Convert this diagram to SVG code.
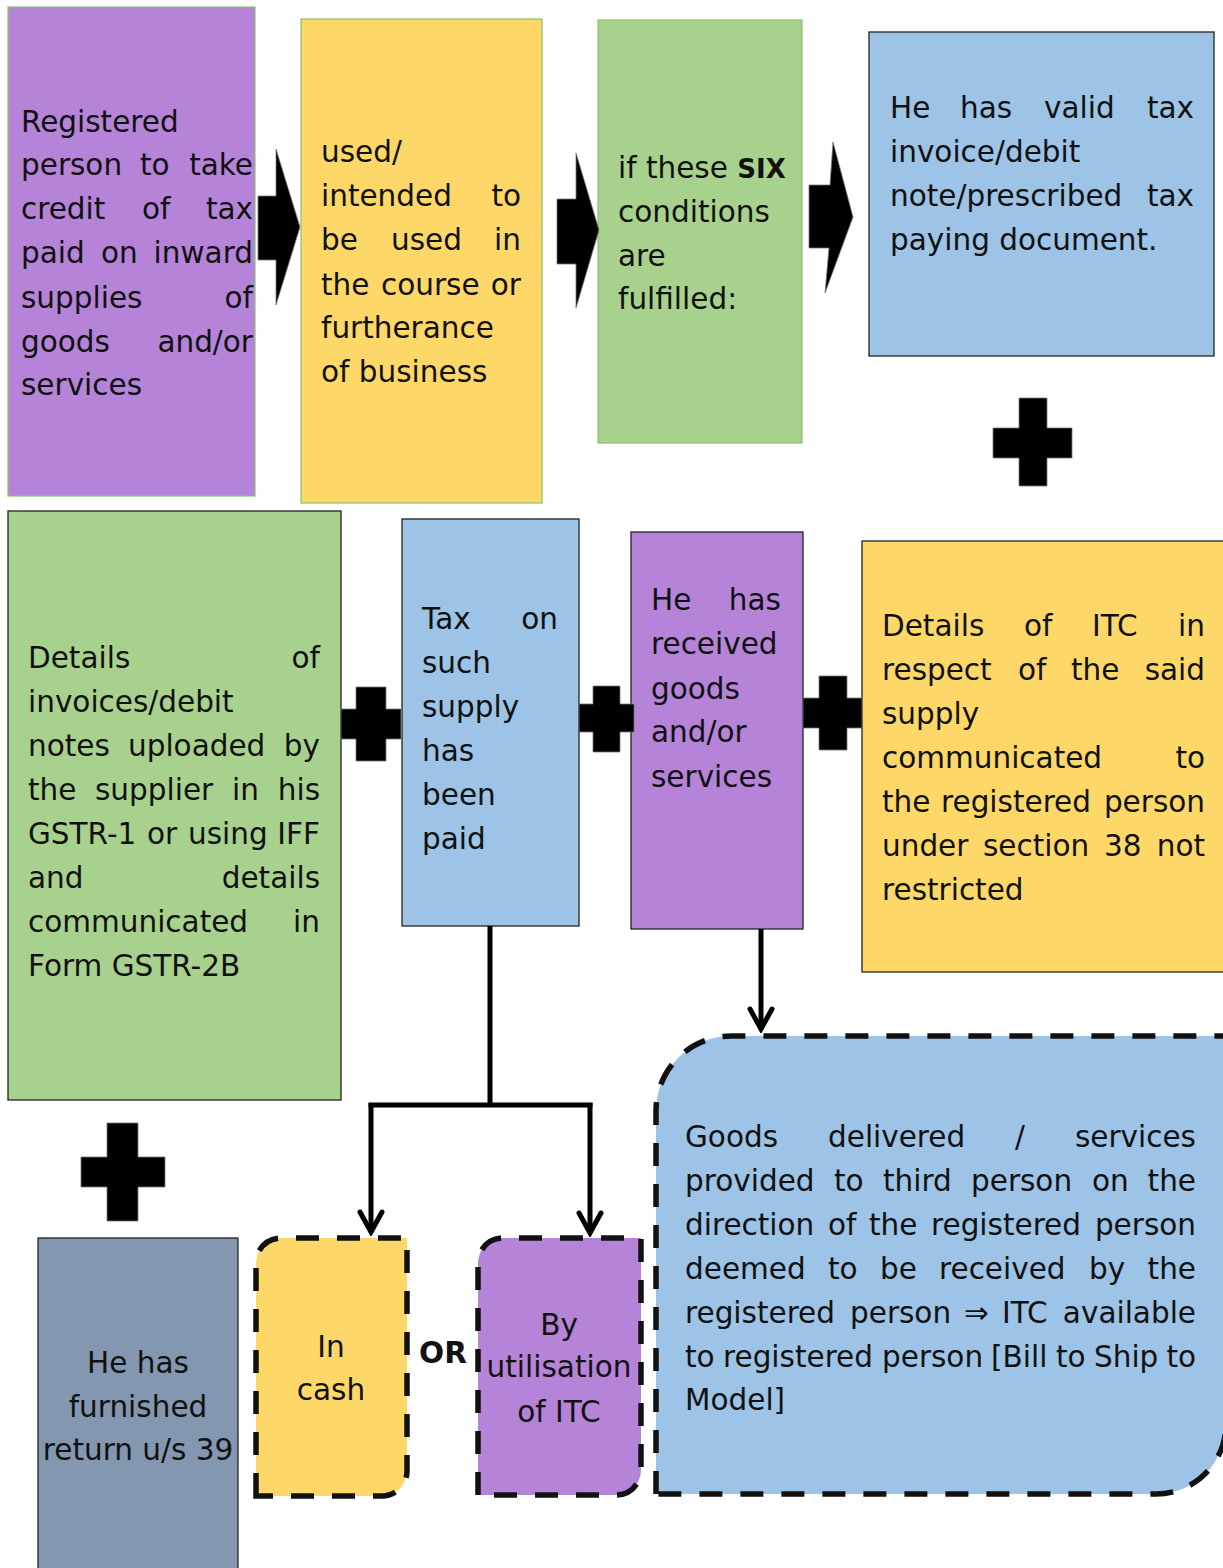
<svg xmlns="http://www.w3.org/2000/svg" width="1223" height="1568" viewBox="0 0 1223 1568">
<style>
text{font-family:"DejaVu Sans","Noto Sans",sans-serif;font-size:29.5px;fill:#111}
.e{text-anchor:end}
.m{text-anchor:middle}
.b{font-weight:bold}
.gb{stroke:#8cc06a;stroke-width:1.2}
.db{stroke:#222;stroke-width:1.3}
.pu{fill:#b584d9}
.ye{fill:#fdd868}
.gr{fill:#a9d18e}
.bl{fill:#9dc3e6}
.sl{fill:#8497b0}
.dash{stroke:#111;stroke-width:5.5;stroke-dasharray:23 18}
.sym{fill:#000;stroke:#777;stroke-width:0.8}
.con{fill:none;stroke:#000;stroke-width:5}
</style>
<defs>
<marker id="ah" markerUnits="userSpaceOnUse" viewBox="-26 -16 30 32" refX="0" refY="0" markerWidth="30" markerHeight="32" orient="auto">
<path d="M-20,-11 L0,0 L-20,11" fill="none" stroke="#000" stroke-width="5" stroke-linecap="round"/>
</marker>
</defs>

<g id="n1">
<rect x="8" y="7" width="247" height="489" class="pu gb"/>
<text x="21" y="132">Registered</text>
<text x="21" y="175">person</text><text x="140" y="175">to</text><text x="253" y="175" class="e">take</text>
<text x="21" y="219">credit</text><text x="142" y="219">of</text><text x="253" y="219" class="e">tax</text>
<text x="21" y="263">paid</text><text x="101" y="263">on</text><text x="253" y="263" class="e">inward</text>
<text x="21" y="308">supplies</text><text x="253" y="308" class="e">of</text>
<text x="21" y="352">goods</text><text x="253" y="352" class="e">and/or</text>
<text x="21" y="395">services</text>
</g>

<g id="n2">
<rect x="301" y="19" width="241" height="484" class="ye gb"/>
<text x="321" y="162">used/</text>
<text x="321" y="206">intended</text><text x="521" y="206" class="e">to</text>
<text x="321" y="250">be</text><text x="391" y="250">used</text><text x="521" y="250" class="e">in</text>
<text x="321" y="295">the</text><text x="381" y="295">course</text><text x="521" y="295" class="e">or</text>
<text x="321" y="338">furtherance</text>
<text x="321" y="382">of business</text>
</g>

<g id="n3">
<rect x="598" y="20" width="204" height="423" class="gr gb"/>
<text x="618" y="178">if these <tspan class="b" font-size="26">SIX</tspan></text>
<text x="618" y="222">conditions</text>
<text x="618" y="266">are</text>
<text x="618" y="309">fulfilled:</text>
</g>

<g id="n4">
<rect x="869" y="32" width="345" height="324" class="bl db"/>
<text x="890" y="118">He</text><text x="960" y="118">has</text><text x="1044" y="118">valid</text><text x="1194" y="118" class="e">tax</text>
<text x="890" y="162">invoice/debit</text>
<text x="890" y="206">note/prescribed</text><text x="1194" y="206" class="e">tax</text>
<text x="890" y="250">paying document.</text>
</g>

<g id="n5">
<rect x="8" y="511" width="333" height="589" class="gr db"/>
<text x="28" y="668">Details</text><text x="320" y="668" class="e">of</text>
<text x="28" y="712">invoices/debit</text>
<text x="28" y="756">notes</text><text x="128" y="756">uploaded</text><text x="320" y="756" class="e">by</text>
<text x="28" y="800">the</text><text x="95" y="800">supplier</text><text x="232" y="800">in</text><text x="320" y="800" class="e">his</text>
<text x="28" y="844">GSTR-1</text><text x="147" y="844">or</text><text x="188" y="844">using</text><text x="320" y="844" class="e">IFF</text>
<text x="28" y="888">and</text><text x="320" y="888" class="e">details</text>
<text x="28" y="932">communicated</text><text x="320" y="932" class="e">in</text>
<text x="28" y="976">Form GSTR-2B</text>
</g>

<g id="n6">
<rect x="402" y="519" width="177" height="407" class="bl db"/>
<text x="422" y="629">Tax</text><text x="558" y="629" class="e">on</text>
<text x="422" y="673">such</text>
<text x="422" y="717">supply</text>
<text x="422" y="761">has</text>
<text x="422" y="805">been</text>
<text x="422" y="849">paid</text>
</g>

<g id="n7">
<rect x="631" y="532" width="172" height="397" class="pu db"/>
<text x="651" y="610">He</text><text x="781" y="610" class="e">has</text>
<text x="651" y="654">received</text>
<text x="651" y="699">goods</text>
<text x="651" y="742">and/or</text>
<text x="651" y="787">services</text>
</g>

<g id="n8">
<rect x="862" y="541" width="370" height="431" class="ye db"/>
<text x="882" y="636">Details</text><text x="1024" y="636">of</text><text x="1092" y="636">ITC</text><text x="1205" y="636" class="e">in</text>
<text x="882" y="680">respect</text><text x="1018" y="680">of</text><text x="1071" y="680">the</text><text x="1205" y="680" class="e">said</text>
<text x="882" y="724">supply</text>
<text x="882" y="768">communicated</text><text x="1205" y="768" class="e">to</text>
<text x="882" y="812">the</text><text x="941" y="812">registered</text><text x="1205" y="812" class="e">person</text>
<text x="882" y="856">under</text><text x="983" y="856">section</text><text x="1104" y="856">38</text><text x="1205" y="856" class="e">not</text>
<text x="882" y="900">restricted</text>
</g>

<g id="n9">
<rect x="38" y="1238" width="200" height="340" class="sl db"/>
<text x="138" y="1373" class="m">He has</text>
<text x="138" y="1417" class="m">furnished</text>
<text x="138" y="1460" class="m">return u/s 39</text>
</g>

<g id="n10">
<path d="M256,1496 V1263 A25,25 0 0 1 281,1238 H407 V1471 A25,25 0 0 1 382,1496 Z" class="ye dash"/>
<text x="331" y="1357" class="m">In</text>
<text x="331" y="1400" class="m">cash</text>
</g>

<g id="or">
<text x="443" y="1363" class="m b" font-size="25.5">OR</text>
</g>

<g id="n11">
<path d="M478,1495 V1263 A25,25 0 0 1 503,1238 H641 V1470 A25,25 0 0 1 616,1495 Z" class="pu dash"/>
<text x="559" y="1335" class="m">By</text>
<text x="559" y="1377" class="m">utilisation</text>
<text x="559" y="1422" class="m">of ITC</text>
</g>

<g id="n12">
<path d="M656,1494 V1111 A75,75 0 0 1 731,1036 H1226 V1424 A70,70 0 0 1 1156,1494 Z" class="bl dash"/>
<text x="685" y="1147">Goods</text><text x="828" y="1147">delivered</text><text x="1015" y="1147">/</text><text x="1196" y="1147" class="e">services</text>
<text x="685" y="1191">provided</text><text x="834" y="1191">to</text><text x="883" y="1191">third</text><text x="971" y="1191">person</text><text x="1092" y="1191">on</text><text x="1196" y="1191" class="e">the</text>
<text x="685" y="1235">direction</text><text x="828" y="1235">of</text><text x="869" y="1235">the</text><text x="931" y="1235">registered</text><text x="1196" y="1235" class="e">person</text>
<text x="685" y="1279">deemed</text><text x="828" y="1279">to</text><text x="880" y="1279">be</text><text x="939" y="1279">received</text><text x="1089" y="1279">by</text><text x="1196" y="1279" class="e">the</text>
<text x="685" y="1323">registered</text><text x="850" y="1323">person</text><text x="964" y="1323">⇒</text><text x="1002" y="1323">ITC</text><text x="1196" y="1323" class="e">available</text>
<text x="685" y="1367">to</text><text x="723" y="1367">registered</text><text x="882" y="1367">person</text><text x="991" y="1367">[Bill</text><text x="1056" y="1367">to</text><text x="1094" y="1367">Ship</text><text x="1196" y="1367" class="e">to</text>
<text x="685" y="1410">Model]</text>
</g>

<g id="symbols">
<polygon class="sym" points="258,196 276,196 276,149 300,227 276,305 276,260 258,260"/>
<polygon class="sym" points="557,199 576,199 576,153 599,230 576,308 576,264 557,264"/>
<polygon class="sym" points="809,185 830,185 833,142 853,217 825,293 829,248 809,248"/>
<polygon class="sym" points="1019,398 1047,398 1047,428 1072,428 1072,458 1047,458 1047,486 1019,486 1019,458 993,458 993,428 1019,428"/>
<polygon class="sym" points="356,687 386,687 386,709 401,709 401,739 386,739 386,761 356,761 356,739 341,739 341,709 356,709"/>
<polygon class="sym" points="593,686 620,686 620,704 634,704 634,732 620,732 620,752 593,752 593,732 579,732 579,704 593,704"/>
<polygon class="sym" points="819,676 847,676 847,698 862,698 862,728 847,728 847,750 819,750 819,728 803,728 803,698 819,698"/>
<polygon class="sym" points="107,1123 138,1123 138,1157 165,1157 165,1187 138,1187 138,1221 107,1221 107,1187 81,1187 81,1157 107,1157"/>
</g>

<g id="connectors">
<path class="con" d="M490,926 V1105"/>
<path class="con" d="M368.5,1105 H592.5"/>
<path class="con" d="M371,1103 V1232" marker-end="url(#ah)"/>
<path class="con" d="M590,1103 V1233" marker-end="url(#ah)"/>
<path class="con" d="M761,929 V1029" stroke-width="4.5" marker-end="url(#ah)"/>
</g>
</svg>
